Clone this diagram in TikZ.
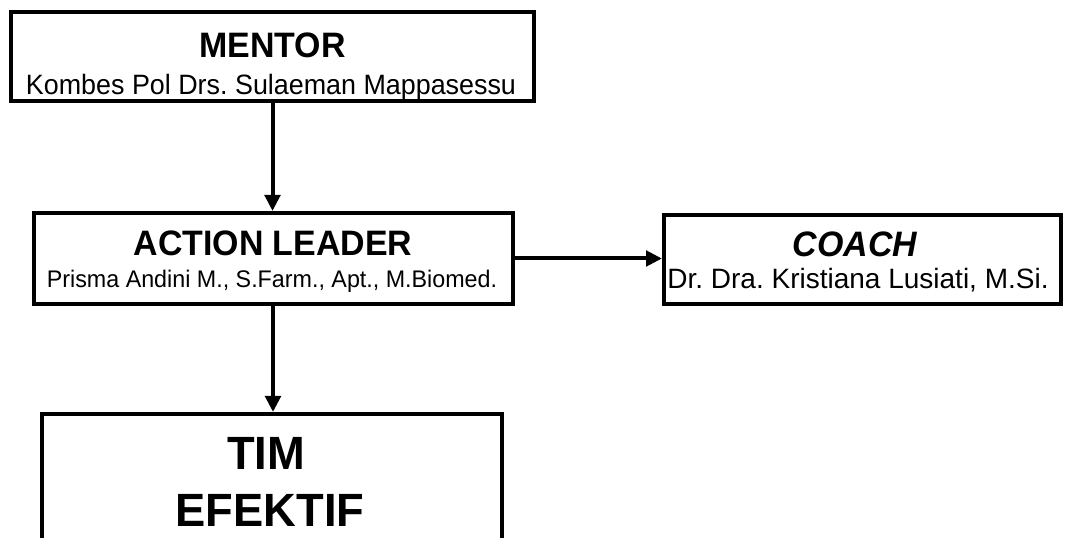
\documentclass[tikz,border=0pt]{standalone}
\usepackage{fontspec}
\setmainfont{Liberation Sans}
\usetikzlibrary{arrows.meta}
\newcommand{\narrow}[2]{\scalebox{#1}[1]{#2}}

\begin{document}
\frenchspacing
\begin{tikzpicture}[x=0.75pt, y=-0.75pt,
    box/.style={draw, line width=3pt, inner sep=0pt},
    title/.style={anchor=base, font=\fontsize{26.5}{30}\selectfont\bfseries},
    who/.style={anchor=base, font=\fontsize{21}{24}\selectfont},
    link/.style={line width=3pt, -{Triangle[length=12pt,width=11.5pt]}}]
    \useasboundingbox (0,0) rectangle (1068,538);
    \clip (0,0) rectangle (1068,538);

    % the four boxes
    \node[box, minimum width=392.25pt, minimum height=66.75pt] (mentor) at (272.5,56.5) {};
    \node[box, minimum width=359.25pt, minimum height=68.25pt] (leader) at (273,258.5) {};
    \node[box, minimum width=297.75pt, minimum height=66.75pt] (coach)  at (862.5,259.5) {};
    \node[box, minimum width=345pt,    minimum height=142.5pt] (tim)    at (271.5,509) {};

    % what is written in them
    \node[title] (mentorT) at (272.5,58) {\narrow{0.96}{MENTOR}};
    \node[who]   (mentorN) at (271,95) {\narrow{0.96}{Kombes Pol Drs. Sulaeman Mappasessu}};
    \node[title] (leaderT) at (273,256) {\narrow{0.96}{ACTION LEADER}};
    \node[who, font=\fontsize{18}{20}\selectfont] (leaderN) at (272,288) {\narrow{0.97}{Prisma Andini M., S.Farm., Apt., M.Biomed.}};
    \node[title, font=\fontsize{26.5}{30}\selectfont\bfseries\itshape] (coachT) at (855,257) {\narrow{0.96}{COACH}};
    \node[who] (coachN) at (858,289) {Dr. Dra. Kristiana Lusiati, M.Si.};
    \node[title, font=\fontsize{35}{40}\selectfont\bfseries] (timA) at (266,469) {\narrow{0.97}{TIM}};
    \node[title, font=\fontsize{35}{40}\selectfont\bfseries] (timB) at (270,526) {\narrow{0.97}{EFEKTIF}};

    % arrows
    \draw[link] (mentor.south) -- (mentor.south |- leader.north);
    \draw[link] (leader.east) -- (leader.east -| coach.west);
    \draw[link] (leader.south) -- (leader.south |- tim.north);
\end{tikzpicture}
\end{document}
